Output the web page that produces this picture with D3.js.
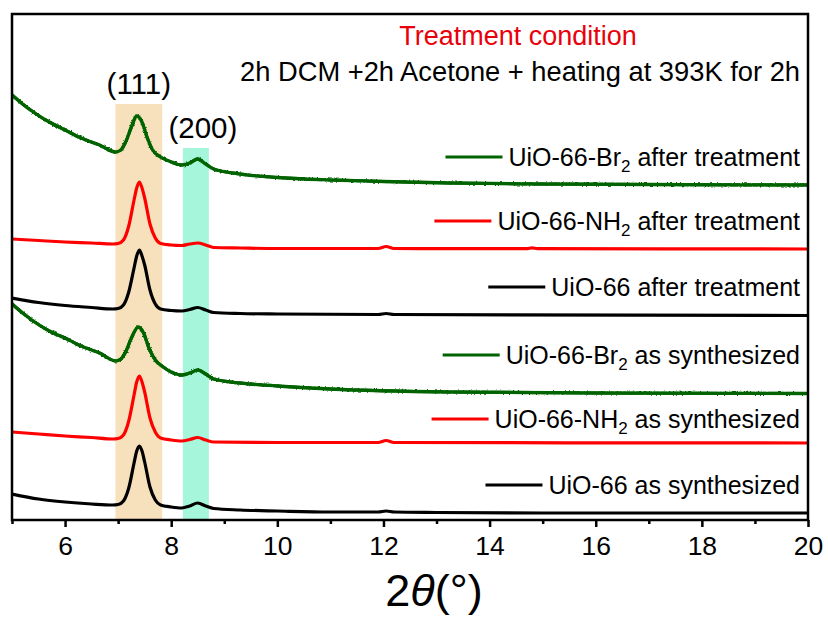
<!DOCTYPE html>
<html>
<head>
<meta charset="utf-8">
<script src="https://cdn.jsdelivr.net/npm/d3@7/dist/d3.min.js"></script>
<style>
  html, body { margin: 0; padding: 0; background: #fff; }
  svg text { font-family: "Liberation Sans", Arial, sans-serif; fill: #000; }
</style>
</head>
<body>
<svg id="chart" width="828" height="619"></svg>
<script>
// XRD patterns of UiO-66 family, stacked (intensity in arbitrary units, offsets included)
const uio66Synth = [[5.0,26],[5.5,21],[6.0,18],[6.5,16],[6.9,15],[7.0,15.5],[7.1,19],[7.2,32],[7.3,57],[7.35,69],[7.4,74],[7.45,69],[7.5,58],[7.6,33],[7.7,20],[7.8,15],[8.0,13],[8.2,12],[8.35,14],[8.5,17],[8.65,14],[8.8,11.5],[9.3,10],[10,9],[11,8],[11.9,8],[12.05,9],[12.2,8],[13,7.5],[15,7],[20,7]];
const uio66NH2Synth = [[5.0,88],[5.5,86],[6.0,84],[6.5,82.5],[6.9,81],[7.0,81.5],[7.1,85],[7.2,99],[7.3,125],[7.35,138],[7.4,144],[7.45,138],[7.5,128],[7.6,102],[7.7,88],[7.8,82],[8.0,80],[8.2,79],[8.35,80.5],[8.5,82.5],[8.65,80],[8.8,78],[10,77.5],[11.9,77.5],[12.05,79.5],[12.2,77.5],[20,77]];
const uio66Br2Synth = [[5.0,216],[5.2,207],[5.4,199],[5.7,189],[6.0,182],[6.3,174],[6.65,167],[6.95,159],[7.05,161],[7.15,169],[7.25,182],[7.38,193],[7.48,187],[7.58,172],[7.7,160],[7.85,153],[8.0,148],[8.2,145],[8.35,147],[8.5,150],[8.65,146],[8.8,141],[9.3,137],[10,134],[11,131],[13.25,128],[16,127],[20,126.5]];
const uio66After = [[5.0,222],[5.5,217.5],[6.0,214.5],[6.5,212.5],[6.9,211],[7.0,211.5],[7.1,215],[7.2,228],[7.3,252],[7.35,264],[7.4,270],[7.45,264],[7.5,255],[7.6,230],[7.7,216],[7.8,211],[8.0,209.5],[8.2,209],[8.35,210.5],[8.5,212.5],[8.65,210],[8.8,207.5],[9.3,206.5],[10,206],[11.9,205.5],[12.05,206.5],[12.2,205.5],[20,204.5]];
const uio66NH2After = [[5.0,281],[5.5,279.5],[6.0,278],[6.5,277],[6.9,276],[7.0,276.5],[7.1,280],[7.2,294],[7.3,320],[7.35,332],[7.4,338],[7.45,332],[7.5,322],[7.6,296],[7.7,282],[7.8,276.5],[8.0,275],[8.2,274.5],[8.35,276],[8.5,277],[8.65,275],[8.8,272.5],[9.3,272],[10,271.5],[11.9,271.5],[12.05,273.5],[12.2,271.5],[14.7,271.3],[14.8,272.2],[14.9,271.3],[20,271]];
const uio66Br2After = [[5.0,425],[5.2,416],[5.4,408],[5.7,398],[6.0,390],[6.3,382],[6.65,375],[6.95,368],[7.05,370],[7.15,379],[7.25,393],[7.35,404],[7.45,398],[7.55,382],[7.65,370],[7.8,363],[8.0,358],[8.2,355],[8.35,357],[8.5,361],[8.65,356],[8.8,351],[9.3,346],[10,342.5],[11,340],[12,338.5],[13.25,337],[15,336],[17,335.5],[20,335]];

const seriesNames = ["UiO-66-Br2 after treatment","UiO-66-NH2 after treatment","UiO-66 after treatment",
                     "UiO-66-Br2 as synthesized","UiO-66-NH2 as synthesized","UiO-66 as synthesized"];
const seriesData = [uio66Br2After, uio66NH2After, uio66After, uio66Br2Synth, uio66NH2Synth, uio66Synth];
const seriesColors = ["#006400","#ff0000","#000000","#006400","#ff0000","#000000"];

// reflection bands: 2θ range, band top in intensity units, hkl label
const bandFrom = [6.95, 8.22];
const bandTo = [7.83, 8.71];
const bandTop = [416, 372];
const bandLabels = ["(111)", "(200)"];
const bandColors = ["#f7e1bd", "#a6f6dc"];

const xTicks = [6, 8, 10, 12, 14, 16, 18, 20];
const xMinorTicks = [5, 7, 9, 11, 13, 15, 17, 19];

const svg = d3.select("#chart");
const M = { left: 12, right: 808, top: 14, bottom: 520 };
const x = d3.scaleLinear().domain([5, 20]).range([M.left, M.right]);
const y = d3.scaleLinear().domain([0, 506]).range([M.bottom, M.top]);

const defs = svg.append("defs");
defs.append("clipPath").attr("id", "plotClip")
  .append("rect").attr("x", M.left).attr("y", M.top)
  .attr("width", M.right - M.left).attr("height", M.bottom - M.top);

// rough edge for the noisy Br2 traces
const f = defs.append("filter").attr("id", "grain")
  .attr("x", "-2%").attr("y", "-20%").attr("width", "104%").attr("height", "140%");
f.append("feTurbulence").attr("type", "fractalNoise").attr("baseFrequency", "0.45 0.8")
  .attr("numOctaves", 2).attr("seed", 7).attr("result", "n");
f.append("feDisplacementMap").attr("in", "SourceGraphic").attr("in2", "n")
  .attr("scale", 3.2).attr("xChannelSelector", "R").attr("yChannelSelector", "G");

// bands
bandFrom.forEach((b, i) => {
  svg.append("rect")
    .attr("x", x(b)).attr("width", x(bandTo[i]) - x(b))
    .attr("y", y(bandTop[i])).attr("height", M.bottom - y(bandTop[i]))
    .attr("fill", bandColors[i]);
});

// traces
const line = d3.line().x(d => x(d[0])).y(d => y(d[1])).curve(d3.curveMonotoneX);
const g = svg.append("g").attr("clip-path", "url(#plotClip)");
seriesData.forEach((s, i) => {
  const isBr = seriesNames[i].includes("Br2");
  g.append("path").datum(s)
    .attr("d", line)
    .attr("fill", "none")
    .attr("stroke", seriesColors[i])
    .attr("stroke-width", isBr ? 3.3 : 3.2)
    .attr("stroke-linejoin", "round");
  if (isBr) {
    g.append("path").datum(s)
      .attr("d", line)
      .attr("fill", "none")
      .attr("stroke", seriesColors[i])
      .attr("stroke-width", 3.2)
      .attr("filter", "url(#grain)");
  }
});

// band labels
bandLabels.forEach((t, i) => {
  svg.append("text")
    .attr("x", (x(bandFrom[i]) + x(bandTo[i])) / 2 + (i === 1 ? 7 : 0))
    .attr("y", y(bandTop[i]) - 10)
    .attr("text-anchor", "middle")
    .attr("font-size", 29.5)
    .text(t);
});

// frame
svg.append("rect").attr("x", M.left).attr("y", M.top)
  .attr("width", M.right - M.left).attr("height", M.bottom - M.top)
  .attr("fill", "none").attr("stroke", "#000").attr("stroke-width", 2.5);

// x axis
const xAxis = d3.axisBottom(x).tickValues(xTicks).tickSize(7).tickPadding(9).tickFormat(d3.format("d"));
const ax = svg.append("g").attr("transform", `translate(0,${M.bottom})`).call(xAxis);
ax.select(".domain").remove();
ax.selectAll(".tick line").attr("stroke", "#000").attr("stroke-width", 2.5);
ax.selectAll(".tick text").attr("font-size", 26.5).attr("font-family", "Liberation Sans, Arial, sans-serif").attr("fill", "#000");
const axm = svg.append("g").attr("transform", `translate(0,${M.bottom})`)
  .call(d3.axisBottom(x).tickValues(xMinorTicks).tickSize(4).tickFormat(""));
axm.select(".domain").remove();
axm.selectAll(".tick line").attr("stroke", "#000").attr("stroke-width", 2.5);

// x axis title
const xt = svg.append("text").attr("x", 434).attr("y", 606).attr("text-anchor", "middle").attr("font-size", 45);
xt.append("tspan").text("2");
xt.append("tspan").attr("font-style", "italic").text("θ");
xt.append("tspan").text("(°)");

// treatment header
svg.append("text").attr("x", 518).attr("y", 45).attr("text-anchor", "middle")
  .attr("font-size", 27).style("fill", "#e8000b").text("Treatment condition");
svg.append("text").attr("x", 800).attr("y", 81).attr("text-anchor", "end")
  .attr("font-size", 27.3).text("2h DCM +2h Acetone + heating at 393K for 2h");

// legend, one row next to each trace
const legendRowY = [157, 221, 287, 355, 419, 485];
const legendRight = 800, lineLen = 57, lineGap = 6;
seriesNames.forEach((name, i) => {
  const t = svg.append("text").attr("x", legendRight).attr("y", legendRowY[i] + 8.5)
    .attr("text-anchor", "end").attr("font-size", 25);
  const m = name.match(/^(.*?)(Br|NH)2(.*)$/);
  if (m) {
    t.append("tspan").text(m[1] + m[2]);
    t.append("tspan").attr("font-size", 17).attr("dy", 6).text("2");
    t.append("tspan").attr("dy", -6).text(m[3]);
  } else {
    t.text(name);
  }
  const w = t.node().getComputedTextLength();
  const x1 = legendRight - w - lineGap;
  svg.append("line").attr("x1", x1 - lineLen).attr("x2", x1)
    .attr("y1", legendRowY[i]).attr("y2", legendRowY[i])
    .attr("stroke", seriesColors[i]).attr("stroke-width", 3.2);
});
</script>
</body>
</html>
